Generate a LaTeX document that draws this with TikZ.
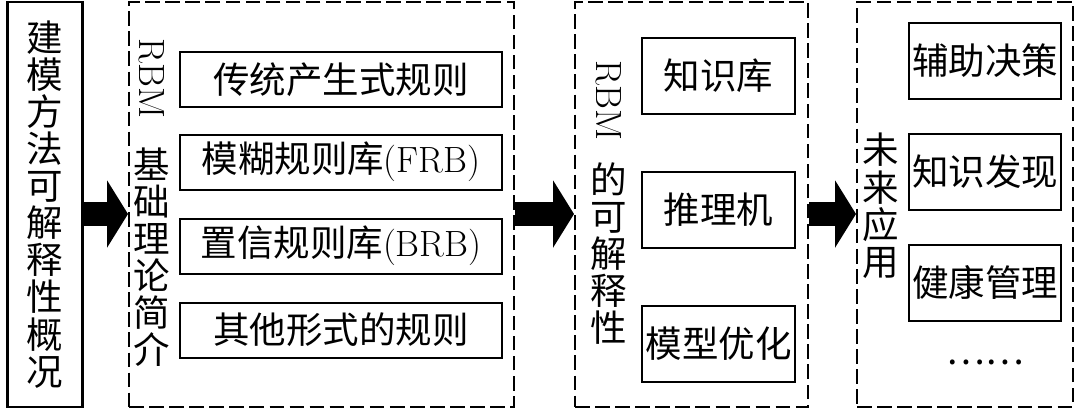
\documentclass[tikz,border=0pt]{standalone}
\usepackage{fontspec}
\newfontfamily\cjk{Noto Sans CJK SC}
\usetikzlibrary{arrows.meta, positioning, calc}
\newcommand{\px}{0.548pt}

\begin{document}
\begin{tikzpicture}[x=0.548pt, y=-0.548pt,
  zh/.style={font=\cjk\fontsize{20}{20.3}\selectfont},
  solidbox/.style={draw, line width=1.1pt, inner sep=0pt, align=center, zh},
  dashbox/.style={draw, line width=1.1pt, dash pattern=on 8pt off 3pt, inner sep=0pt, minimum height=405*\px},
  rulebox/.style={solidbox, minimum width=322*\px, minimum height=55*\px},
  partbox/.style={solidbox, minimum width=153*\px, minimum height=76*\px},
  appbox/.style={solidbox, minimum width=152*\px, minimum height=76*\px},
  vlabel/.style={zh, align=center, inner sep=0pt, anchor=north},
  rbmlabel/.style={rotate=-90, anchor=west, inner sep=0pt, font=\fontsize{20}{20.3}\selectfont},
  bigarrow/.style={line width=13pt, -{Triangle[length=11.5pt, width=37pt, line width=0pt]}}]
  \useasboundingbox (0,0) rectangle (1080,409);

  % overview
  \node[solidbox, minimum width=75*\px, minimum height=405*\px] (overview) at (45,204.5)
    {建\\模\\方\\法\\可\\解\\释\\性\\概\\况};

  % RBM basics
  \node[dashbox, minimum width=385*\px] (basics) at (321.5,204.5) {};
  \node[rbmlabel] (basicsrbm) at (152,38) {RBM};
  \node[vlabel] (basicstitle) at (152,147) {基\\础\\理\\论\\简\\介};
  \node[rulebox] (production) at (341,79.5) {传统产生式规则};
  \node[rulebox] (frb) at (341,162) {模糊规则库\rmfamily(FRB)};
  \node[rulebox] (brb) at (341,246) {置信规则库\rmfamily(BRB)};
  \node[rulebox] (otherrules) at (341,330) {其他形式的规则};

  % interpretability
  \node[dashbox, minimum width=233*\px] (explain) at (691.5,204.5) {};
  \node[rbmlabel] (explainrbm) at (609,60) {RBM};
  \node[vlabel] (explaintitle) at (609,162) {的\\可\\解\\释\\性};
  \node[partbox] (knowledge) at (718.5,76) {知识库};
  \node[partbox] (inference) at (718.5,210) {推理机};
  \node[partbox] (optimize) at (718.5,344) {模型优化};

  % future applications
  \node[dashbox, minimum width=216*\px] (future) at (965,204.5) {};
  \node[vlabel] (futuretitle) at (881,133) {未\\来\\应\\用};
  \node[appbox] (decision) at (985,60.5) {辅助决策};
  \node[appbox] (discovery) at (985,171.5) {知识发现};
  \node[appbox] (health) at (985,282.5) {健康管理};
  \node[zh, inner sep=0pt] (more) at (985,362) {……};

  % block arrows
  \coordinate (arrowrow) at (0,214);
  \draw[bigarrow] (overview.east |- arrowrow) -- (basics.west |- arrowrow);
  \draw[bigarrow] (basics.east |- arrowrow) -- (explain.west |- arrowrow);
  \draw[bigarrow] (explain.east |- arrowrow) -- (future.west |- arrowrow);
\end{tikzpicture}
\end{document}
